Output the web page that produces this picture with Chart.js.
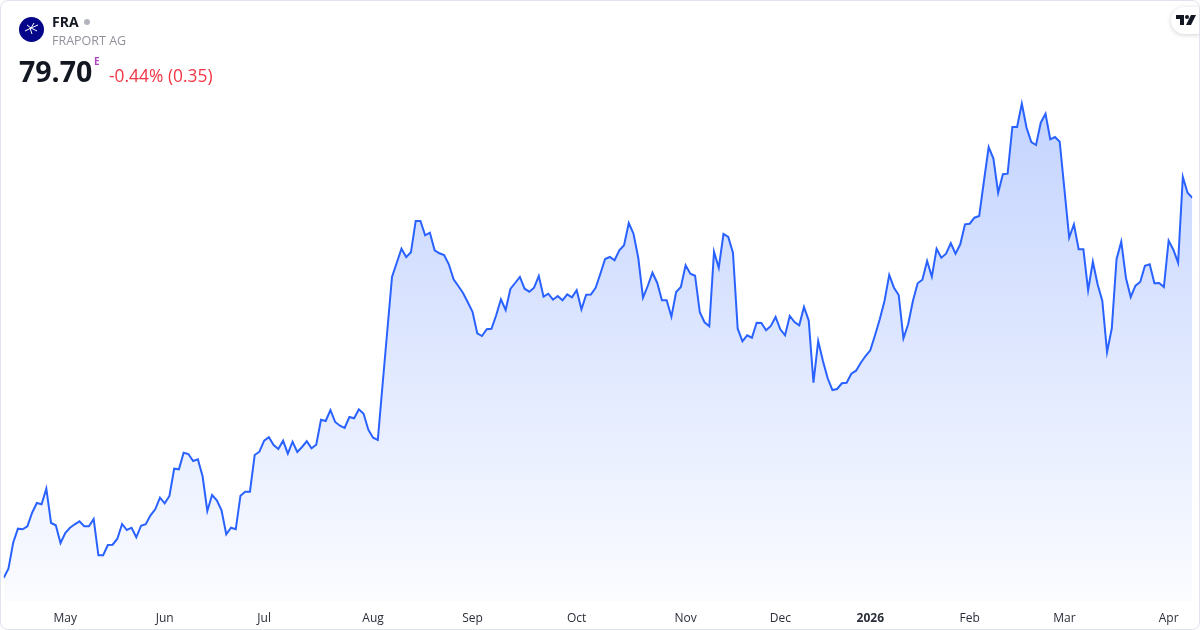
<!DOCTYPE html>
<html>
<head>
<meta charset="utf-8">
<script src="https://cdn.jsdelivr.net/npm/chart.js@4/dist/chart.umd.min.js"></script>
<style>
  html, body { margin: 0; padding: 0; background: #fff; }
  .card {
    position: relative; width: 1200px; height: 630px; box-sizing: border-box;
    border: 1px solid #e0e3eb; border-radius: 8px; overflow: hidden;
    font-family: "Open Sans", "Noto Sans", sans-serif;
  }
  .chart-box { position: absolute; left: -1px; top: -1px; width: 1200px; height: 641px; }
  .head { position: absolute; left: 0; top: 0; z-index: 2; }
  .logo { position: absolute; left: 18px; top: 16px; width: 25px; height: 25px; border-radius: 50%; background: #06068a; }
  .sym { position: absolute; left: 51px; top: 11px; font-size: 14px; font-weight: 700; color: #131722; white-space: nowrap; }
  .dot { display: inline-block; width: 6px; height: 6px; border-radius: 50%; background: #b2b5be; margin-left: 5px; vertical-align: 2px; }
  .name { position: absolute; left: 51px; top: 31px; font-size: 12.5px; color: #8f929b; white-space: nowrap; }
  .price { position: absolute; left: 18px; top: 51px; font-size: 28.5px; font-weight: 700; color: #131722; }
  .e { position: absolute; left: 93px; top: 53px; font-size: 10px; font-weight: 700; color: #ab47bc; }
  .chg { position: absolute; left: 108px; top: 62px; font-size: 17.4px; color: #f23645; white-space: nowrap; }
  .tv {
    position: absolute; right: -10px; top: 6px; width: 38px; height: 27px; border-radius: 14px;
    background: #fff; box-shadow: 0 1px 5px rgba(0,0,0,0.18); z-index: 2;
  }
</style>
</head>
<body>
<div class="card">
  <div class="chart-box"><canvas id="lineChart"></canvas></div>
  <div class="head">
    <div class="logo">
      <svg width="25" height="25" viewBox="0 0 25 25">
        <path d="M6 14 L12 11 L19 8 M11 11 L13 17 M12 11 L18 14 M8 8 L12 11 M12 11 L15 6" stroke="#fff" stroke-width="1" fill="none"/>
      </svg>
    </div>
    <div class="sym">FRA<span class="dot"></span></div>
    <div class="name">FRAPORT AG</div>
    <div class="price">79.70</div>
    <div class="e">E</div>
    <div class="chg">-0.44% (0.35)</div>
  </div>
  <div class="tv">
    <svg width="22" height="12" viewBox="0 0 22 12" style="position:absolute;left:5px;top:8px">
      <path d="M0 0 H8 V10 H4 V4 H0 Z" fill="#131722"/>
      <circle cx="11" cy="2" r="2" fill="#131722"/>
      <path d="M15 0 H20 L15 10 H10 Z" fill="#131722"/>
    </svg>
  </div>
</div>

<script>
// daily closes, late Apr 2025 -> early Apr 2026 (EUR)
const closes = [
  53.10, 53.73, 55.55, 56.53, 56.49, 56.70, 57.65, 58.33, 58.24, 59.33,
  56.93, 56.77, 55.53, 56.23, 56.60, 56.84, 57.05, 56.70, 56.70, 57.21,
  54.67, 54.67, 55.39, 55.41, 55.83, 56.86, 56.44, 56.60, 55.93, 56.74,
  56.84, 57.47, 57.89, 58.70, 58.31, 58.82, 60.73, 60.69, 61.85, 61.76,
  61.27, 61.39, 60.20, 57.77, 58.89, 58.52, 57.82, 56.14, 56.60, 56.49,
  58.84, 59.12, 59.12, 61.69, 61.92, 62.69, 62.93, 62.39, 62.11, 62.69,
  61.78, 62.62, 61.90, 62.25, 62.65, 62.16, 62.41, 64.16, 64.07, 64.84,
  64.00, 63.74, 63.58, 64.35, 64.26, 64.89, 64.58, 63.46, 62.90, 62.74,
  66.59, 70.37, 74.15, 75.15, 76.13, 75.55, 75.88, 78.07, 78.07, 77.07,
  77.25, 76.02, 75.81, 75.69, 75.04, 73.99, 73.52, 73.03, 72.38, 71.72,
  70.21, 70.02, 70.49, 70.53, 71.47, 72.59, 71.84, 73.31, 73.73, 74.15,
  73.33, 73.12, 73.40, 74.22, 72.77, 72.98, 72.56, 72.82, 72.52, 72.94,
  72.73, 73.22, 71.89, 72.91, 72.92, 73.40, 74.38, 75.41, 75.55, 75.32,
  76.02, 76.37, 77.93, 77.18, 75.50, 72.70, 73.52, 74.45, 73.75, 72.52,
  72.52, 71.37, 73.10, 73.45, 74.97, 74.38, 74.24, 71.68, 70.98, 70.70,
  75.92, 74.80, 77.16, 76.95, 75.85, 70.53, 69.65, 70.07, 69.90, 70.95,
  70.93, 70.42, 70.72, 71.35, 70.49, 70.07, 71.42, 71.00, 70.77, 72.05,
  71.10, 66.75, 69.67, 68.27, 67.06, 66.24, 66.31, 66.71, 66.75, 67.38,
  67.59, 68.15, 68.62, 69.02, 70.07, 71.19, 72.47, 74.29, 73.40, 72.89,
  69.86, 70.84, 72.47, 73.71, 73.96, 75.27, 74.17, 76.13, 75.50, 75.78,
  76.51, 75.78, 76.44, 77.84, 77.88, 78.30, 78.42, 80.87, 83.25, 82.44,
  80.05, 81.34, 81.38, 84.65, 84.65, 86.28, 84.60, 83.60, 83.39, 84.95,
  85.58, 83.79, 83.95, 83.62, 80.26, 76.90, 77.84, 76.09, 76.09, 73.22,
  75.22, 73.64, 72.47, 68.90, 70.56, 75.39, 76.62, 74.06, 72.75, 73.54,
  73.80, 74.94, 75.04, 73.71, 73.73, 73.45, 76.69, 76.06, 75.15, 81.15,
  80.05, 79.70
];

// first trading day of each month (index into closes) and its label
const tickIndex = [13, 34, 55, 78, 99, 121, 144, 164, 183, 204, 224, 246];
const tickLabels = ['May', 'Jun', 'Jul', 'Aug', 'Sep', 'Oct', 'Nov', 'Dec', '2026', 'Feb', 'Mar', 'Apr'];

const points = closes.map((v, i) => ({ x: i, y: v }));

const ctx = document.getElementById('lineChart').getContext('2d');
new Chart(ctx, {
  type: 'line',
  data: {
    datasets: [{
      data: points,
      borderColor: '#2962ff',
      borderWidth: 2,
      pointRadius: 0,
      tension: 0,
      fill: 'start',
      backgroundColor: (c) => {
        const area = c.chart.chartArea;
        if (!area) return 'rgba(41,98,255,0.1)';
        const g = c.chart.ctx.createLinearGradient(0, 100, 0, area.bottom);
        g.addColorStop(0, 'rgba(41,98,255,0.28)');
        g.addColorStop(1, 'rgba(41,98,255,0.02)');
        return g;
      },
    }],
  },
  options: {
    responsive: true,
    maintainAspectRatio: false,
    animation: false,
    layout: { padding: { left: 3.7, right: 7.7, top: 1, bottom: 5.6 } },
    plugins: { legend: { display: false }, tooltip: { enabled: false } },
    scales: {
      x: {
        type: 'linear',
        min: 0,
        max: closes.length - 1,
        offset: false,
        grid: { display: false, drawTicks: false },
        border: { display: false },
        afterBuildTicks: (axis) => { axis.ticks = tickIndex.map(v => ({ value: v })); },
        ticks: {
          padding: 10,
          maxRotation: 0,
          autoSkip: false,
          color: '#2a2e39',
          font: (c) => ({
            family: '"Open Sans", "Noto Sans", sans-serif',
            size: 12,
            weight: c.tick && c.tick.label === '2026' ? 'bold' : 'normal',
          }),
          callback: (v) => tickLabels[tickIndex.indexOf(v)],
        },
      },
      y: {
        display: false,
        min: 51.47,
        max: 93.47,
      },
    },
  },
});
</script>
</body>
</html>
